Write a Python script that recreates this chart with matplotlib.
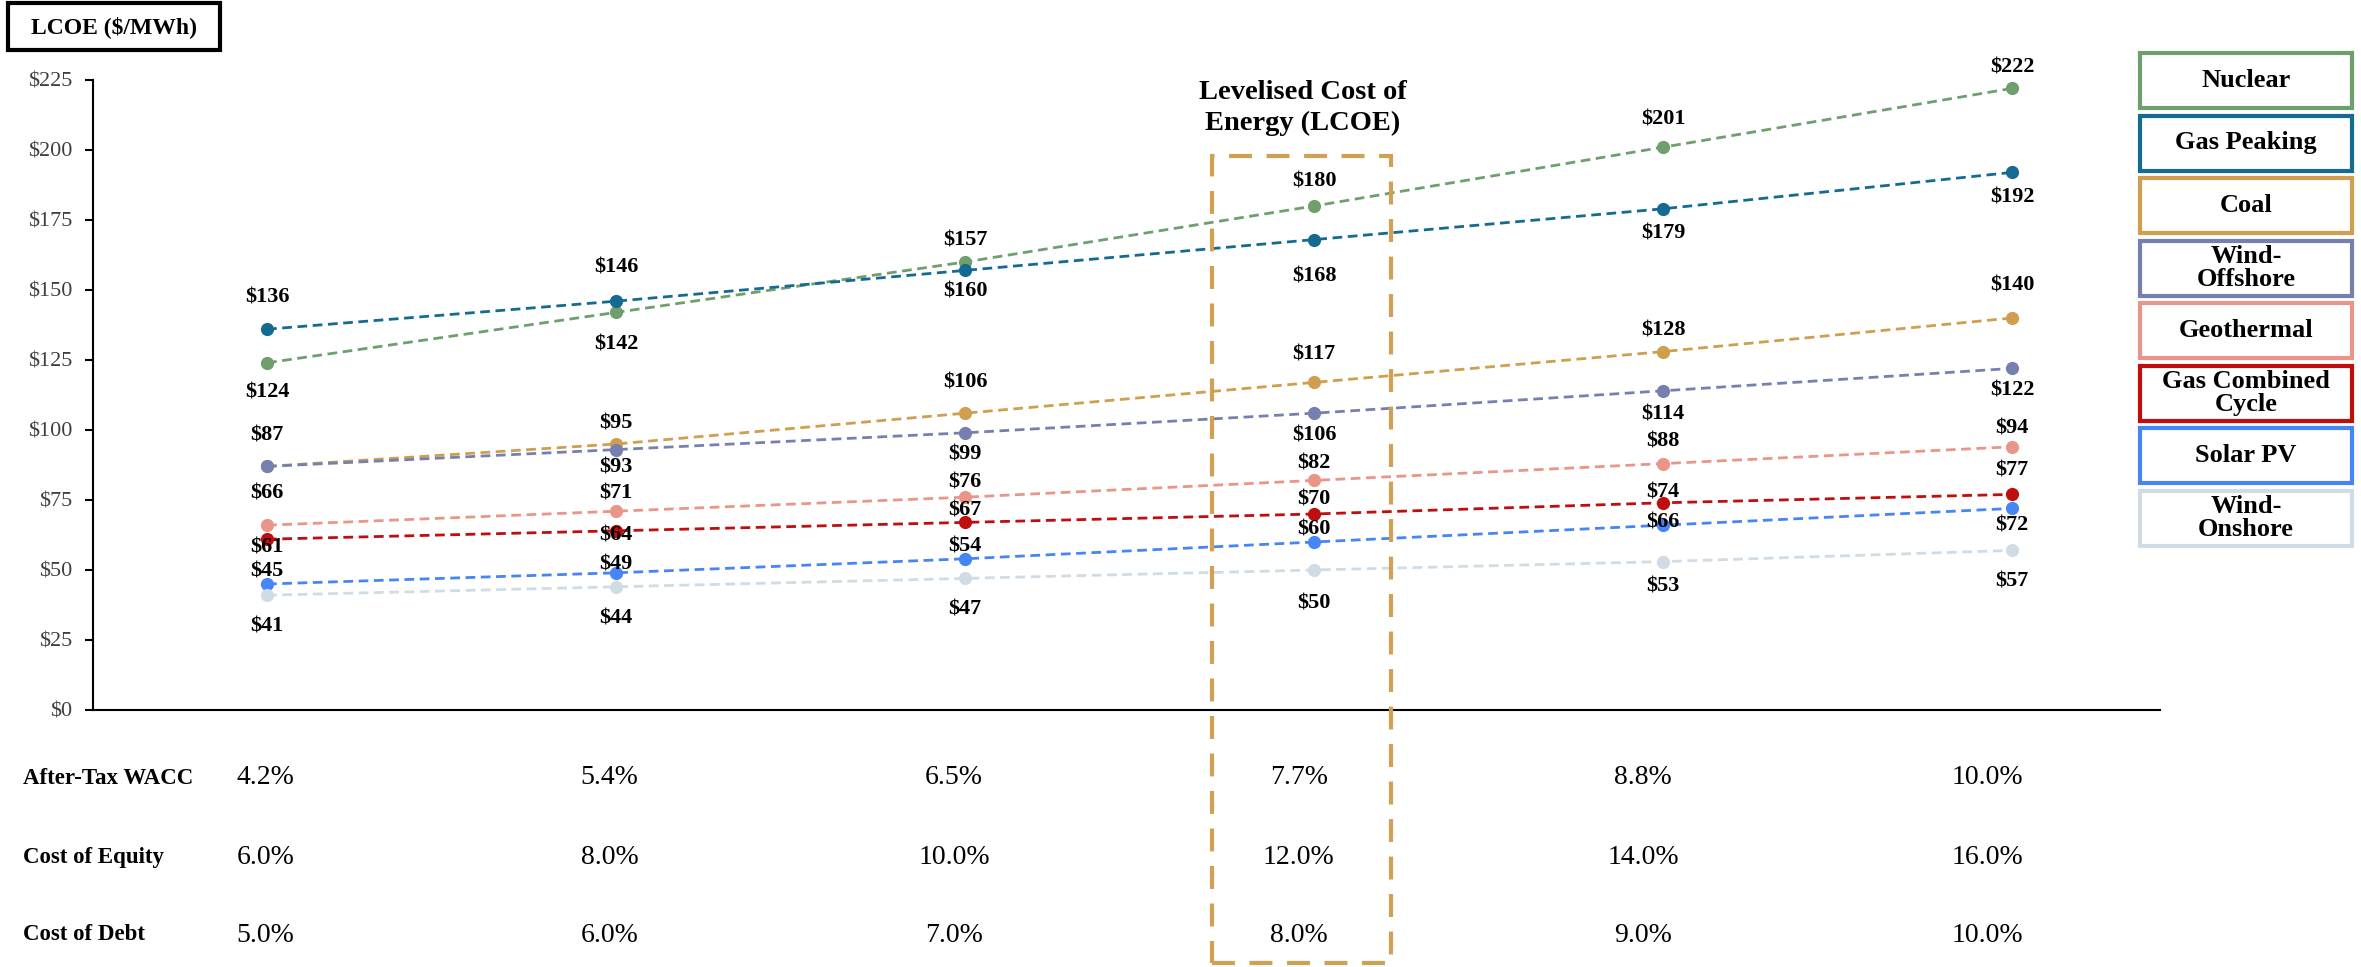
import matplotlib.pyplot as plt
from matplotlib.patches import Rectangle
from matplotlib.transforms import blended_transform_factory
import numpy as np

plt.rcParams['font.family'] = ['Liberation Serif', 'DejaVu Serif']

# data
wacc = ['4.2%', '5.4%', '6.5%', '7.7%', '8.8%', '10.0%']
cost_equity = ['6.0%', '8.0%', '10.0%', '12.0%', '14.0%', '16.0%']
cost_debt = ['5.0%', '6.0%', '7.0%', '8.0%', '9.0%', '10.0%']

techs = ['Nuclear', 'Gas Peaking', 'Coal', 'Wind-\nOffshore', 'Geothermal',
         'Gas Combined\nCycle', 'Solar PV', 'Wind-\nOnshore']
nuclear = [124, 142, 160, 180, 201, 222]
gas_peaking = [136, 146, 157, 168, 179, 192]
coal = [87, 95, 106, 117, 128, 140]
wind_offshore = [87, 93, 99, 106, 114, 122]
geothermal = [66, 71, 76, 82, 88, 94]
gas_cc = [61, 64, 67, 70, 74, 77]
solar_pv = [45, 49, 54, 60, 66, 72]
wind_onshore = [41, 44, 47, 50, 53, 57]
series = [nuclear, gas_peaking, coal, wind_offshore, geothermal, gas_cc, solar_pv, wind_onshore]

colors = ['#6F9F6C', '#156A92', '#CF9E4F', '#7680AE', '#E9958A', '#C00D0D', '#4585F5', '#CFDCE6']

# label offsets in pixels (positive = below the point), None = no label
label_off = [
    [30, 32, 30, -25, -28, -21],
    [-32, -34, -30, 37, 25, 25],
    [-31, -21, -31, -28, -21, -33],
    [None, 18, 22, 22, 24, 22],
    [-32, -18, -15, -17, -22, -18],
    [8, 5, -12, -15, -10, -24],
    [-13, -8, -12, -12, -3, 17],
    [31, 32, 31, 34, 25, 31],
]

W, H = 2361, 967
fig = plt.figure(figsize=(W / 100, H / 100), dpi=100)


def fx(px):
    return px / W


def fy(py):
    return 1 - py / H


ax = fig.add_axes([fx(93), fy(710), fx(2160) - fx(93), fy(80) - fy(710)])

x = np.arange(len(wacc))
for vals, c, offs in zip(series, colors, label_off):
    ax.plot(x, vals, color=c, lw=2, linestyle=(0, (3.5, 2)), marker='o',
            markersize=9.5, markeredgewidth=0, clip_on=False)
    for xi, v, o in zip(x, vals, offs):
        if o is None:
            continue
        ax.annotate(f'${v}', (xi, v), xytext=(0, -o * 0.72), textcoords='offset points',
                    ha='center', va='center', fontsize=16, fontweight='bold', zorder=5)

ax.set_xlim(-0.4986, 5.424)
ax.set_ylim(0, 225)
ax.set_yticks(np.arange(0, 226, 25))
ax.set_yticklabels([f'${t}' for t in range(0, 226, 25)])
ax.tick_params(axis='y', length=6, width=1.5, pad=9, labelsize=16, labelcolor='#404040')
ax.set_xticks([])
for s in ['top', 'right']:
    ax.spines[s].set_visible(False)
ax.spines['left'].set_linewidth(1.5)
ax.spines['bottom'].set_linewidth(1.5)

# top-left unit box
fig.text(fx(114), fy(27), 'LCOE ($/MWh)', ha='center', va='center',
         fontsize=17, fontweight='bold')
fig.add_artist(Rectangle((fx(8), fy(50)), fx(212), fy(3) - fy(50), transform=fig.transFigure,
                         fill=False, edgecolor='black', lw=3))

# LCOE highlight
fig.text(fx(1303), fy(108), 'Levelised Cost of\nEnergy (LCOE)', ha='center', va='center',
         fontsize=20.5, fontweight='bold', linespacing=1.3)
fig.add_artist(Rectangle((fx(1212), fy(963)), fx(1391) - fx(1212), fy(156) - fy(963),
                         transform=fig.transFigure, fill=False, edgecolor='#D1A052',
                         lw=3, linestyle=(0, (5.5, 3.5))))

# table under chart
trans = blended_transform_factory(ax.transAxes, fig.transFigure)
rows = [('After-Tax WACC', wacc, 778), ('Cost of Equity', cost_equity, 857),
        ('Cost of Debt', cost_debt, 935)]
for name, vals, ypx in rows:
    fig.text(fx(23), fy(ypx), name, ha='left', va='center', fontsize=16.5, fontweight='bold')
    for i, v in enumerate(vals):
        fig.text((i + 0.5) / len(vals), fy(ypx), v, transform=trans,
                 ha='center', va='center', fontsize=20)

# legend boxes
for k, (name, c) in enumerate(zip(techs, colors)):
    top = 53 + 62.5 * k
    fig.add_artist(Rectangle((fx(2140), fy(top + 55)), fx(212), fy(top) - fy(top + 55),
                             transform=fig.transFigure, fill=False, edgecolor=c, lw=3))
    fig.text(fx(2246), fy(top + 27.5), name, ha='center', va='center',
             fontsize=19, fontweight='bold', linespacing=1.0)

fig.savefig('out.png', dpi=100)
